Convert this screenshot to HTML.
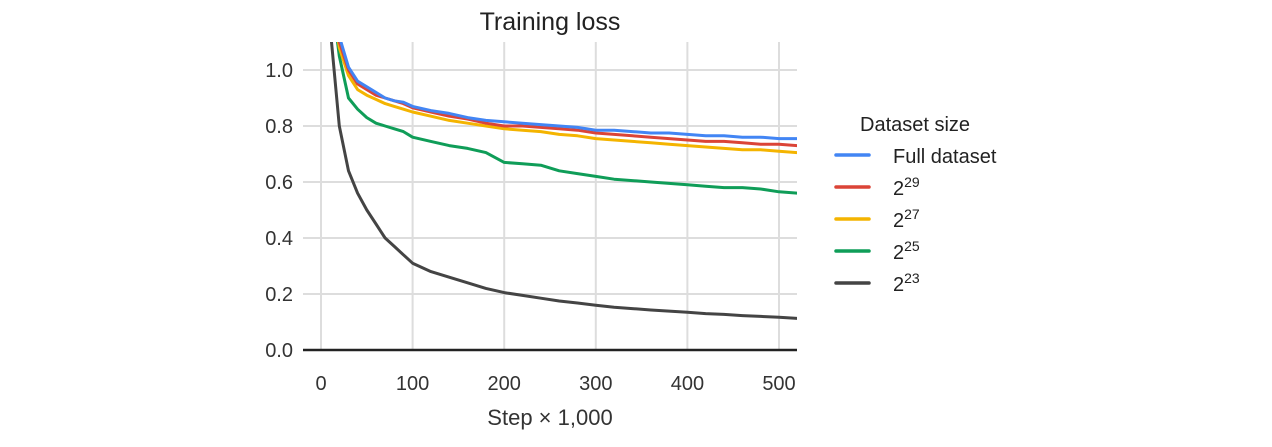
<!DOCTYPE html>
<html><head><meta charset="utf-8"><style>
body{margin:0;background:#fff;}
svg{display:block;font-family:"Liberation Sans",sans-serif;}
</style></head><body>
<svg id="chart" width="1272" height="447">
<text x="550" y="30" font-size="25" text-anchor="middle" fill="#222">Training loss</text>
<g id="grid"></g><g id="series"></g><g id="axes"></g>
<text x="550" y="425" font-size="22" text-anchor="middle" fill="#333">Step × 1,000</text>
<g id="legend"></g>
</svg>
<script>
const steps=[10,20,30,40,50,60,70,80,90,100,120,140,160,180,200,220,240,260,280,300,320,340,360,380,400,420,440,460,480,500,520];
const seriesNames=["Full dataset","2^29","2^27","2^25","2^23"];
const seriesColors=["#4285f4","#db4437","#f4b400","#0f9d58","#444"];
const fullVals=[1.3,1.12,1.01,0.96,0.94,0.92,0.9,0.89,0.885,0.87,0.855,0.845,0.83,0.82,0.815,0.81,0.805,0.8,0.795,0.785,0.785,0.78,0.775,0.775,0.77,0.765,0.765,0.76,0.76,0.755,0.755];
const v29=[1.3,1.1,1.0,0.95,0.93,0.91,0.9,0.89,0.88,0.865,0.85,0.835,0.825,0.81,0.8,0.8,0.795,0.79,0.785,0.775,0.77,0.765,0.76,0.755,0.75,0.745,0.745,0.74,0.735,0.735,0.73];
const v27=[1.3,1.08,0.98,0.93,0.91,0.895,0.88,0.87,0.86,0.85,0.835,0.82,0.81,0.8,0.79,0.785,0.78,0.77,0.765,0.755,0.75,0.745,0.74,0.735,0.73,0.725,0.72,0.715,0.715,0.71,0.705];
const v25=[1.3,1.05,0.9,0.86,0.83,0.81,0.8,0.79,0.78,0.76,0.745,0.73,0.72,0.705,0.67,0.665,0.66,0.64,0.63,0.62,0.61,0.605,0.6,0.595,0.59,0.585,0.58,0.58,0.575,0.565,0.56];
const v23=[1.15,0.8,0.64,0.56,0.5,0.45,0.4,0.37,0.34,0.31,0.28,0.26,0.24,0.22,0.205,0.195,0.185,0.175,0.168,0.16,0.153,0.148,0.143,0.139,0.135,0.13,0.127,0.123,0.12,0.117,0.113];
const allVals=[fullVals,v29,v27,v25,v23];
const xTicks=[0,100,200,300,400,500];
const yTicks=[0.0,0.2,0.4,0.6,0.8,1.0];
const X0=303,X1=797,Y0=350,Y1=42;
const xs=s=>321+s*0.916;
const ys=v=>350-v*280;
const NS="http://www.w3.org/2000/svg";
function mk(tag,attrs,parent){const e=document.createElementNS(NS,tag);for(const k in attrs)e.setAttribute(k,attrs[k]);parent.appendChild(e);return e;}
const grid=document.getElementById('grid'),axes=document.getElementById('axes'),ser=document.getElementById('series'),leg=document.getElementById('legend');
xTicks.forEach(t=>{const l=mk('line',{x1:xs(t),x2:xs(t),y1:Y1,y2:Y0,stroke:'#ddd','stroke-width':2},grid);


const tx=mk('text',{x:xs(t),y:390,'font-size':20,'text-anchor':'middle',fill:'#333'},axes);tx.textContent=t;

});
yTicks.forEach(t=>{if(t>0){const l=mk('line',{x1:X0,x2:X1,y1:ys(t),y2:ys(t),stroke:'#ddd','stroke-width':2},grid);

}
const tx=mk('text',{x:293,y:ys(t)+7,'font-size':20,'text-anchor':'end',fill:'#333'},axes);tx.textContent=t.toFixed(1);

});
const ax=mk('line',{x1:X0,x2:X1,y1:Y0,y2:Y0,stroke:'#222','stroke-width':2.5},axes);


mk('clipPath',{id:'cp'},ser);mk('rect',{x:X0,y:Y1,width:X1-X0,height:Y0-Y1},ser.lastChild);
[4,3,2,1,0].forEach(i=>{const d=steps.map((s,j)=>(j?'L':'M')+xs(s).toFixed(1)+','+ys(allVals[i][j]).toFixed(1)).join('');
const p=mk('path',{d:d,fill:'none',stroke:seriesColors[i],'stroke-width':3,'clip-path':'url(#cp)','stroke-linejoin':'round'},ser);

});
const lt=mk('text',{x:860,y:131,'font-size':20,fill:'#222'},leg);lt.textContent='Dataset size';


seriesNames.forEach((n,i)=>{const y=155+i*32;
const l=mk('line',{x1:836,x2:869,y1:y,y2:y,stroke:seriesColors[i],'stroke-width':3.5,'stroke-linecap':'round'},leg);


const t=mk('text',{x:893,y:y+8,'font-size':20,fill:'#222'},leg);


if(n.startsWith('2^')){t.textContent='2';const sp=mk('tspan',{dy:-8,'font-size':14},t);sp.textContent=n.slice(2);}
else t.textContent=n;});
</script>
</body></html>
